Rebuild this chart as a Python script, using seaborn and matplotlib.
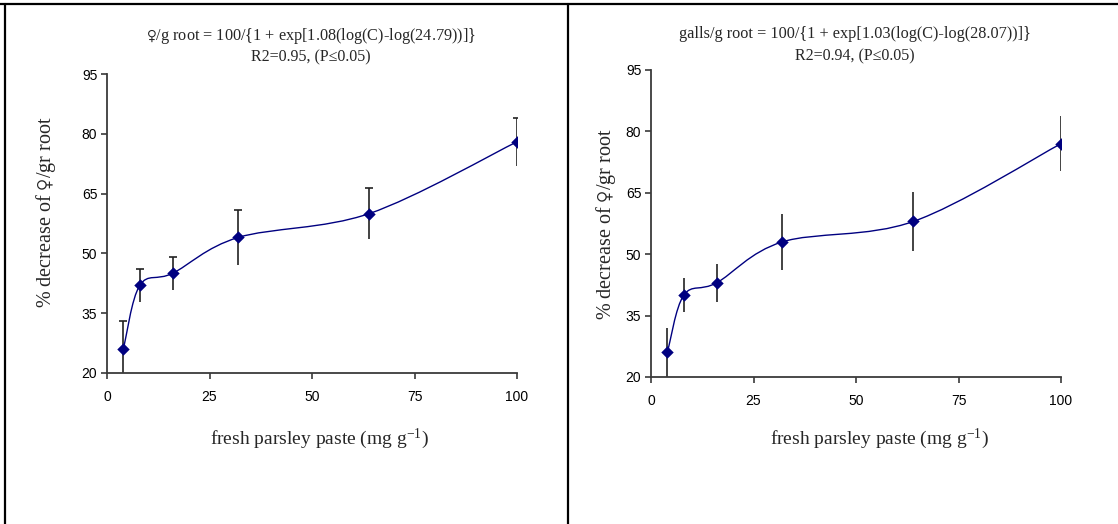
import matplotlib
matplotlib.use("Agg")
import matplotlib.pyplot as plt
from matplotlib.path import Path
from matplotlib.patches import PathPatch
from matplotlib.lines import Line2D
import numpy as np
import pandas as pd
import seaborn as sns

# concentrations of fresh parsley paste (mg/g)
conc = [4, 8, 16, 32, 64, 100]

# left panel: females per g root
females = [26, 42, 45, 54, 60, 78]
females_err = [7, 4.2, 4.2, 7, 6.5, 6]

# right panel: galls per g root
galls = [26, 40, 43, 53, 58, 77]
galls_err = [6, 4.2, 4.6, 6.8, 7.2, 6.7]

fem = "$\\mathsf{\u2640}$"
title_eq = [fem + "/g root = 100/{1 + exp[1.08(log(C)-log(24.79))]}",
            "galls/g root = 100/{1 + exp[1.03(log(C)-log(28.07))]}"]
title_r2 = ["R2=0.95, (P\u22640.05)", "R2=0.94, (P\u22640.05)"]
ylab = "% decrease of " + fem + "/gr root"
xlab = "fresh parsley paste (mg g$^{-1}$)"
xticks = [0, 25, 50, 75, 100]
yticks = [20, 35, 50, 65, 80, 95]

sns.set_style("ticks")
plt.rcParams['font.family'] = ['Liberation Sans', 'DejaVu Sans']
plt.rcParams['mathtext.fontset'] = 'custom'
plt.rcParams['mathtext.rm'] = 'Liberation Serif'
plt.rcParams['mathtext.it'] = 'Liberation Serif:italic'
plt.rcParams['mathtext.sf'] = 'DejaVu Sans:light'
serif = ['Liberation Serif', 'DejaVu Sans']

navy = '#000080'
axcol = '#3a3a3a'


def smooth_path(xs, ys):
    # excel-like smoothed line through the points (catmull-rom beziers)
    pts = np.column_stack([xs, ys]).astype(float)
    n = len(pts)
    verts = [pts[0]]
    codes = [Path.MOVETO]
    for i in range(n - 1):
        p0 = pts[i - 1] if i > 0 else pts[i]
        p1 = pts[i]
        p2 = pts[i + 1]
        p3 = pts[i + 2] if i + 2 < n else pts[i + 1]
        verts += [p1 + (p2 - p0) / 6, p2 - (p3 - p1) / 6, p2]
        codes += [Path.CURVE4] * 3
    return Path(verts, codes)


fig = plt.figure(figsize=(11.18, 5.24), dpi=100)
W, H = 1118, 524

# axes boxes in pixels: left, top, right, bottom
boxes = [(107, 74, 517, 373), (651, 70, 1061, 377)]
series = [(females, females_err, True), (galls, galls_err, False)]
title_x = [311, 855]
title_y = [(36, 57), (34, 56)]
xlab_x = [319, 879]
ylab_pos = [(46, 212), (606, 224)]

for k in range(2):
    l, t, r, b = boxes[k]
    ax = fig.add_axes([l / W, 1 - b / H, (r - l) / W, (b - t) / H])
    vals, err, caps = series[k]
    df = pd.DataFrame({"conc": conc, "val": vals})

    path = smooth_path(conc, vals)
    ax.add_patch(PathPatch(path, facecolor='none', edgecolor=navy, lw=1.0, zorder=3))

    zeros = [0] * len(err)
    if caps:
        ax.errorbar(conc, vals, yerr=[zeros, err], fmt='none', ecolor='#222222',
                    elinewidth=1.2, capsize=3, capthick=1.2, zorder=2)
        ax.errorbar(conc, vals, yerr=[err, zeros], fmt='none', ecolor='#222222',
                    elinewidth=1.2, capsize=0, zorder=2)
    else:
        ax.errorbar(conc, vals, yerr=err, fmt='none', ecolor='#222222',
                    elinewidth=1.2, capsize=0, zorder=2)

    sns.scatterplot(data=df, x="conc", y="val", ax=ax, marker='D', s=40,
                    color=navy, edgecolor=navy, linewidth=0, zorder=4)

    ax.set_xlim(0, 100)
    ax.set_ylim(20, 95)
    ax.set_xticks(xticks)
    ax.set_yticks(yticks)
    sns.despine(ax=ax)
    for s in ['left', 'bottom']:
        ax.spines[s].set_color(axcol)
        ax.spines[s].set_linewidth(1.3)
    ax.tick_params(axis='both', colors=axcol, labelcolor='black', labelsize=10,
                   length=4, width=1.2)
    ax.tick_params(axis='x', pad=8)
    ax.tick_params(axis='y', pad=3)
    ax.set_xlabel("")
    ax.set_ylabel("")

    fig.text(title_x[k] / W, 1 - title_y[k][0] / H, title_eq[k], ha='center',
             va='center', fontsize=11.7, family=serif)
    fig.text(title_x[k] / W, 1 - title_y[k][1] / H, title_r2[k], ha='center',
             va='center', fontsize=11.5, family=serif)
    fig.text(ylab_pos[k][0] / W, 1 - ylab_pos[k][1] / H, ylab, rotation=90,
             ha='center', va='center', fontsize=14.5, family=serif)
    fig.text(xlab_x[k] / W, 1 - 439 / H, xlab, ha='center', va='center',
             fontsize=14, family=serif)

# panel frame lines
fig.add_artist(Line2D([0, 1], [1 - 4 / H, 1 - 4 / H], color='black', lw=1.6))
fig.add_artist(Line2D([5 / W, 5 / W], [0, 1 - 4 / H], color='black', lw=1.6))
fig.add_artist(Line2D([568 / W, 568 / W], [0, 1 - 4 / H], color='black', lw=1.6))

fig.savefig("out.png", dpi=100)
